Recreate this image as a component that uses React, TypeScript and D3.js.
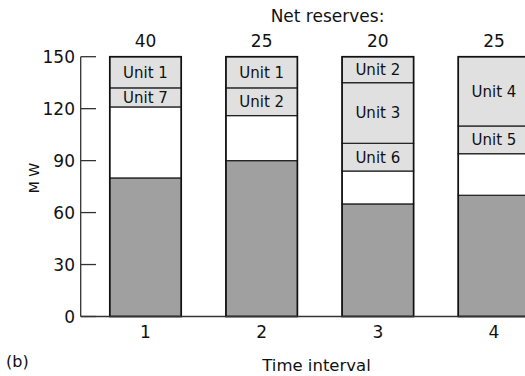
import React from "react";
import * as d3 from "d3";

const intervals = ["1", "2", "3", "4"];
const netReserves = [40, 25, 20, 25];
const loadMW = [80, 90, 65, 70];
const committedTop = [121, 116, 84, 94];
const unitLabels = [
  ["Unit 7", "Unit 1"],
  ["Unit 2", "Unit 1"],
  ["Unit 6", "Unit 3", "Unit 2"],
  ["Unit 5", "Unit 4"],
];
const unitTops = [
  [132, 150],
  [132, 150],
  [100, 135, 150],
  [110, 150],
];
const yTicks = [0, 30, 60, 90, 120, 150];

const W = 525;
const H = 376;
const FONT = "DejaVu Sans, sans-serif";

export default function App() {
  const y = d3.scaleLinear().domain([0, 150]).range([316.5, 56.7]);
  const x = d3.scalePoint<string>().domain(intervals).range([145.5, 494]);
  const bw = 71.5;
  const axisX = 80.7;

  return (
    <svg
      width={W}
      height={H}
      style={{ position: "absolute", left: 0, top: 0, background: "#fff" }}
      fontFamily={FONT}
    >
      <rect x={0} y={0} width={W} height={H} fill="#fff" />
      {intervals.map((c, i) => {
        const cx = x(c) as number;
        const x0 = cx - bw / 2;
        let prev = committedTop[i];
        const segs = unitTops[i].map((t, j) => {
          const s = { lo: prev, hi: t, label: unitLabels[i][j] };
          prev = t;
          return s;
        });
        return (
          <g key={c}>
            <rect x={x0} y={y(loadMW[i])} width={bw} height={y(0) - y(loadMW[i])} fill="#a0a0a0" stroke="#222" strokeWidth={1.2} />
            <rect x={x0} y={y(committedTop[i])} width={bw} height={y(loadMW[i]) - y(committedTop[i])} fill="#ffffff" stroke="#222" strokeWidth={1.2} />
            {segs.map((s) => (
              <g key={s.label}>
                <rect x={x0} y={y(s.hi)} width={bw} height={y(s.lo) - y(s.hi)} fill="#e0e0e0" stroke="#222" strokeWidth={1.2} />
                <text x={cx} y={(y(s.hi) + y(s.lo)) / 2} dy="0.36em" textAnchor="middle" fontSize={15} fill="#111">
                  {s.label}
                </text>
              </g>
            ))}
            <rect x={x0} y={y(150)} width={bw} height={y(0) - y(150)} fill="none" stroke="#111" strokeWidth={1.6} />
            <text x={cx} y={47} textAnchor="middle" fontSize={17} fill="#111">
              {netReserves[i]}
            </text>
            <text x={cx} y={338} textAnchor="middle" fontSize={17} fill="#111">
              {c}
            </text>
          </g>
        );
      })}
      {/* axes */}
      <line x1={axisX} x2={W} y1={y(0)} y2={y(0)} stroke="#333" strokeWidth={1.3} />
      <line x1={axisX} x2={axisX} y1={y(0)} y2={y(150)} stroke="#333" strokeWidth={1.3} />
      {yTicks.map((t) => (
        <g key={t}>
          <line x1={axisX} x2={96} y1={y(t)} y2={y(t)} stroke="#333" strokeWidth={1.3} />
          <text x={75} y={y(t)} dy="0.36em" textAnchor="end" fontSize={17} fill="#111">
            {t}
          </text>
        </g>
      ))}
      <text transform="translate(39,178) rotate(-90)" textAnchor="middle" fontSize={14} fill="#111">
        M W
      </text>
      <text x={327.5} y={22} textAnchor="middle" fontSize={17} fill="#111">
        Net reserves:
      </text>
      <text x={316.5} y={371} textAnchor="middle" fontSize={16.5} fill="#111">
        Time interval
      </text>
      <text x={6} y={367} fontSize={16} fill="#111">
        (b)
      </text>
    </svg>
  );
}
